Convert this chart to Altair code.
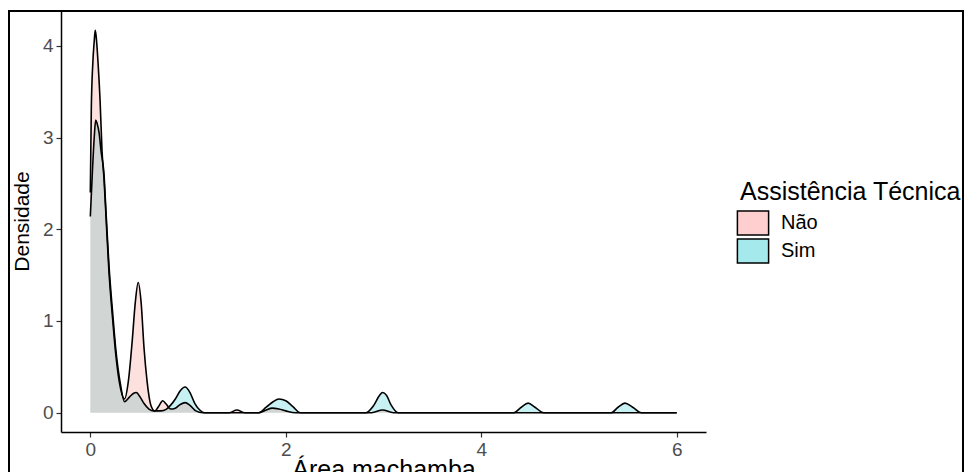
import altair as alt
import pandas as pd

# ---- data (kernel density curves) ----
groups = ["Não", "Sim"]

x_nao = [0, 0.01, 0.025, 0.04, 0.05, 0.06, 0.08, 0.10, 0.12, 0.14, 0.16, 0.19, 0.23, 0.26,
         0.31, 0.35, 0.39, 0.43, 0.46, 0.49, 0.52, 0.55, 0.58, 0.62, 0.66, 0.70, 0.74, 0.78,
         0.82, 0.87, 0.92, 0.97, 1.02, 1.08, 1.15, 1.42, 1.50, 1.58, 1.72, 1.80, 1.86, 1.93,
         2.0, 2.1, 2.88, 2.99, 3.1, 6.0]
y_nao = [2.4, 3.3, 3.8, 4.05, 4.17, 4.1, 3.8, 3.4, 2.85, 2.55, 2.15, 1.55, 1.0, 0.64,
         0.26, 0.15, 0.35, 0.8, 1.2, 1.42, 1.2, 0.7, 0.35, 0.08, 0.02, 0.07, 0.13, 0.09,
         0.04, 0.05, 0.09, 0.11, 0.08, 0.02, 0.0, 0.0, 0.03, 0.0, 0.0, 0.03, 0.05, 0.04,
         0.02, 0.0, 0.0, 0.03, 0.0, 0.0]

x_sim = [0, 0.02, 0.04, 0.055, 0.07, 0.09, 0.11, 0.14, 0.16, 0.19, 0.23, 0.26, 0.31, 0.35,
         0.40, 0.44, 0.47, 0.51, 0.55, 0.60, 0.65, 0.72, 0.78, 0.82, 0.87, 0.92, 0.97, 1.02,
         1.07, 1.12, 1.17, 1.72, 1.80, 1.87, 1.93, 2.0, 2.07, 2.15, 2.82, 2.90, 2.96, 2.99,
         3.03, 3.08, 3.15, 4.33, 4.41, 4.48, 4.55, 4.64, 5.33, 5.40, 5.47, 5.55, 5.64, 6.0]
y_sim = [2.14, 2.6, 3.0, 3.19, 3.15, 3.05, 2.85, 2.6, 2.2, 1.62, 1.07, 0.70, 0.30, 0.12,
         0.17, 0.21, 0.22, 0.17, 0.10, 0.04, 0.02, 0.02, 0.04, 0.08, 0.15, 0.24, 0.28, 0.22,
         0.10, 0.03, 0.0, 0.0, 0.06, 0.12, 0.15, 0.13, 0.07, 0.0, 0.0, 0.08, 0.19, 0.22,
         0.19, 0.08, 0.0, 0.0, 0.06, 0.105, 0.06, 0.0, 0.0, 0.06, 0.105, 0.06, 0.0, 0.0]

x_ticks = [0, 2, 4, 6]
y_ticks = [0, 1, 2, 3, 4]

fill_colors = ["#F8766D", "#00BFC4"]
legend_colors = ["#FFCFCF", "#A6E9EC"]

df_nao = pd.DataFrame({"grupo": groups[0], "area": x_nao, "dens": y_nao})
df_sim = pd.DataFrame({"grupo": groups[1], "area": x_sim, "dens": y_sim})
df = pd.concat([df_nao, df_sim], ignore_index=True)

FONT = "Liberation Sans"

xs = alt.X("area:Q", title="Área machamba",
           scale=alt.Scale(domain=[-0.3, 6.3], nice=False, zero=False),
           axis=alt.Axis(values=x_ticks, format="d", titlePadding=-2))
ys = alt.Y("dens:Q", title="Densidade", stack=None,
           scale=alt.Scale(domain=[-0.21, 4.39], nice=False, zero=False),
           axis=alt.Axis(values=y_ticks, format="d", titleFontSize=21, titlePadding=10))

col = alt.Color("grupo:N", scale=alt.Scale(domain=groups, range=fill_colors), legend=None)


def area_layer(d):
    return alt.Chart(d).mark_area(interpolate="monotone", fillOpacity=0.22).encode(
        x=xs, y=ys, y2=alt.datum(0), color=col)


area_sim = area_layer(df_sim)
area_nao = area_layer(df_nao)

lines = alt.Chart(df).mark_line(interpolate="monotone", color="black", strokeWidth=1.6).encode(
    x=xs, y=alt.Y("dens:Q"), detail="grupo:N"
)

legend_layer = alt.Chart(df).transform_calculate(leg="datum.grupo").mark_area(
    fillOpacity=0).encode(
    x=xs, y=ys, y2=alt.datum(0),
    color=alt.Color("leg:N", scale=alt.Scale(domain=groups, range=legend_colors),
                    legend=alt.Legend(
                        orient="none", legendX=679, legendY=170,
                        title="Assistência Técnica", titleFont=FONT, titleFontSize=25,
                        titleFontWeight="normal", titleColor="black", titlePadding=5,
                        titleLimit=500, labelLimit=300,
                        labelFont=FONT, labelFontSize=20, labelColor="black",
                        symbolType="M-1.3,-1H1.3V1H-1.3Z", symbolSize=576,
                        symbolStrokeColor="black", symbolStrokeWidth=1.5,
                        symbolOpacity=1, rowPadding=-5, labelOffset=15)),
)

frame = alt.Chart(alt.Data(values=[{"k": 1}])).mark_rect(
    fill="white", fillOpacity=0.0, stroke="black", strokeWidth=2, clip=False
).encode(x=alt.value(-52), x2=alt.value(902), y=alt.value(1), y2=alt.value(520))

chart = alt.layer(area_sim, area_nao, lines, legend_layer, frame).resolve_scale(
    color="independent"
).properties(
    width=645, height=422,
    autosize=alt.AutoSizeParams(type="none"),
    padding={"left": 53, "top": 2, "right": 259, "bottom": 40},
).configure_view(stroke=None).configure_axis(
    grid=False, labelFont=FONT, labelFontSize=19, labelColor="#4D4D4D",
    tickColor="#333333", tickSize=5, tickWidth=1.2, labelPadding=3,
    domainColor="black", domainWidth=1.5,
    titleFont=FONT, titleFontSize=25, titleFontWeight="normal", titleColor="black",
)

chart.save("out.html", embed_options={"renderer": "svg", "actions": False})
